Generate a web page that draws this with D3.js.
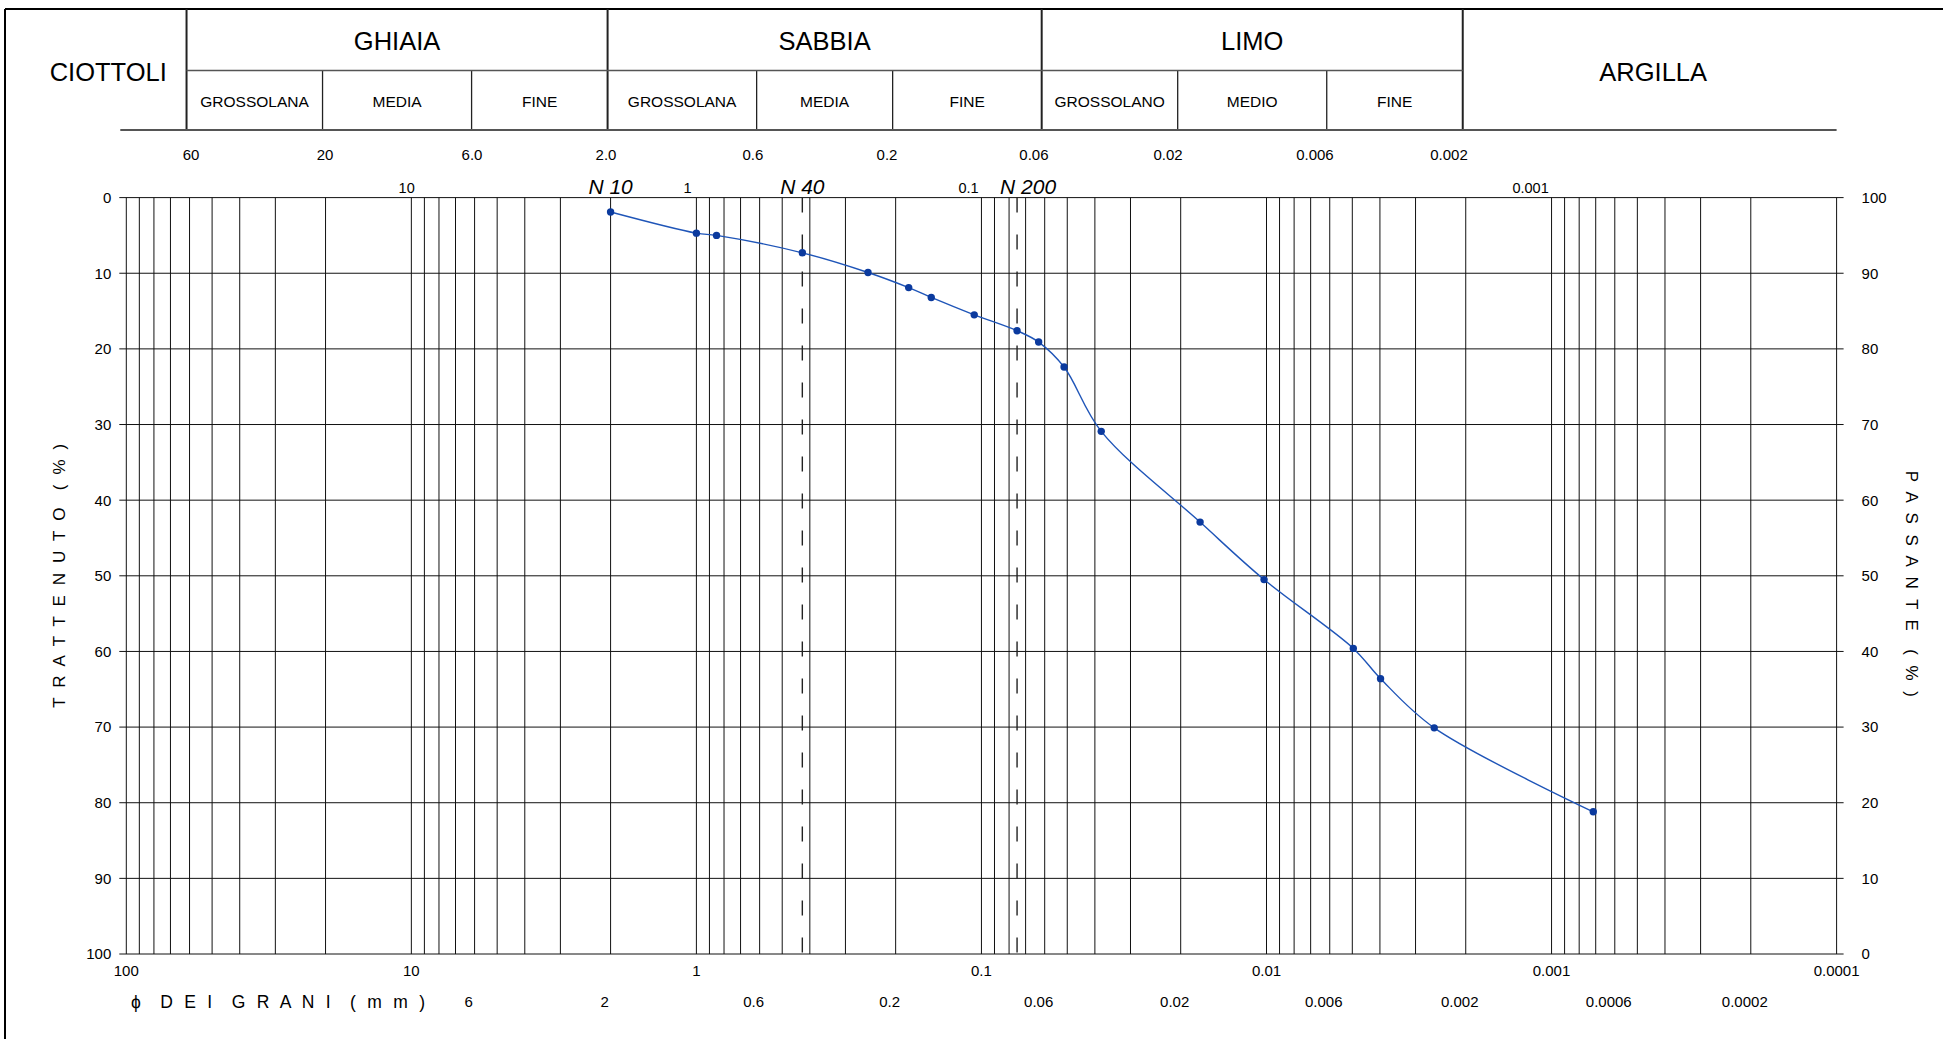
<!DOCTYPE html>
<html>
<head>
<meta charset="utf-8">
<script src="https://cdn.jsdelivr.net/npm/d3@7"></script>
<style>
  html, body { margin: 0; padding: 0; background: #fff; }
  svg { display: block; font-family: "Liberation Sans", Arial, Helvetica, sans-serif; }
  .spaced { white-space: pre; }
</style>
</head>
<body>
<svg id="chart" width="1943" height="1039"></svg>
<script>
// grain size curve: diameter (mm) and retained (%)
const diameters = [2.0, 1.0, 0.85, 0.425, 0.25, 0.18, 0.15, 0.106, 0.075, 0.063, 0.0513, 0.038, 0.0171, 0.0102, 0.00496, 0.00398, 0.00258, 0.000714];
const retained = [1.9, 4.7, 5.0, 7.3, 9.9, 11.9, 13.2, 15.5, 17.6, 19.1, 22.4, 30.9, 42.9, 50.5, 59.6, 63.6, 70.1, 81.2];

// sieves marked with dashed lines
const sieveNames = ['N 10', 'N 40', 'N 200'];
const sieveSizes = [2.0, 0.425, 0.075];

// classification header
const classNames = ['GHIAIA', 'SABBIA', 'LIMO'];
const classBounds = [60, 2, 0.06, 0.002];
const subNames = ['GROSSOLANA', 'MEDIA', 'FINE', 'GROSSOLANA', 'MEDIA', 'FINE', 'GROSSOLANO', 'MEDIO', 'FINE'];
const subBounds = [60, 20, 6, 2, 0.6, 0.2, 0.06, 0.02, 0.006, 0.002];
const boundLabels = ['60', '20', '6.0', '2.0', '0.6', '0.2', '0.06', '0.02', '0.006', '0.002'];

// tick labels
const topDecadeLabels = [10, 1, 0.1, 0.001];
const bottomMajorLabels = [100, 10, 1, 0.1, 0.01, 0.001, 0.0001];
const bottomMinorLabels = [6, 2, 0.6, 0.2, 0.06, 0.02, 0.006, 0.002, 0.0006, 0.0002];
const percentTicks = [0, 10, 20, 30, 40, 50, 60, 70, 80, 90, 100];

const svg = d3.select('#chart');

const x = d3.scaleLog().domain([100, 0.0001]).range([126.3, 1836.6]);
const y = d3.scaleLinear().domain([0, 100]).range([197.6, 954]);
// the header row is drawn a few pixels left of the plot grid
const hx = (v) => x(v) - 3;
// the header numbers sit on a slightly compressed copy of the axis
const labelX = d3.scaleLog().domain([60, 0.002]).range([191, 1449]);

const left = x.range()[0];
const right = x.range()[1];
const tick = 7;

// outer frame
svg.append('line').attr('x1', 5).attr('y1', 9).attr('x2', 1943).attr('y2', 9)
  .attr('stroke', '#000').attr('stroke-width', 2);
svg.append('line').attr('x1', 5).attr('y1', 9).attr('x2', 5).attr('y2', 1039)
  .attr('stroke', '#000').attr('stroke-width', 2);

// header table
const header = svg.append('g').attr('stroke', '#222');
const rowMid = 70.5;
const headBottom = 130;

header.selectAll('line.major')
  .data(classBounds)
  .join('line')
  .attr('x1', hx).attr('x2', hx)
  .attr('y1', 9).attr('y2', headBottom)
  .attr('stroke-width', 2);

header.selectAll('line.minor')
  .data(subBounds.filter((v) => !classBounds.includes(v)))
  .join('line')
  .attr('class', 'minor')
  .attr('x1', hx).attr('x2', hx)
  .attr('y1', rowMid).attr('y2', headBottom)
  .attr('stroke-width', 1.3);

header.append('line')
  .attr('x1', hx(60)).attr('x2', hx(0.002))
  .attr('y1', rowMid).attr('y2', rowMid)
  .attr('stroke-width', 1.5).attr('stroke', '#555');

header.append('line')
  .attr('x1', left - 6).attr('x2', right)
  .attr('y1', headBottom).attr('y2', headBottom)
  .attr('stroke-width', 1.8).attr('stroke', '#555');

svg.selectAll('text.class')
  .data(classNames)
  .join('text')
  .attr('class', 'class')
  .attr('x', (d, i) => (hx(classBounds[i]) + hx(classBounds[i + 1])) / 2)
  .attr('y', 50)
  .attr('text-anchor', 'middle')
  .attr('font-size', 25.5)
  .text((d) => d);

svg.append('text')
  .attr('x', (30 + hx(60)) / 2)
  .attr('y', 80.5)
  .attr('text-anchor', 'middle')
  .attr('font-size', 25.5)
  .text('CIOTTOLI');

svg.append('text')
  .attr('x', (hx(0.002) + right + tick) / 2)
  .attr('y', 80.5)
  .attr('text-anchor', 'middle')
  .attr('font-size', 25.5)
  .text('ARGILLA');

svg.selectAll('text.sub')
  .data(subNames)
  .join('text')
  .attr('class', 'sub')
  .attr('x', (d, i) => (hx(subBounds[i]) + hx(subBounds[i + 1])) / 2)
  .attr('y', 106.5)
  .attr('text-anchor', 'middle')
  .attr('font-size', 15.5)
  .text((d) => d);

// numbers under the header
svg.selectAll('text.bound')
  .data(subBounds)
  .join('text')
  .attr('class', 'bound')
  .attr('x', (d) => labelX(d))
  .attr('y', 159.5)
  .attr('text-anchor', 'middle')
  .attr('font-size', 15)
  .text((d, i) => boundLabels[i]);

svg.selectAll('text.topdec')
  .data(topDecadeLabels)
  .join('text')
  .attr('class', 'topdec')
  .attr('x', (d) => labelX(d) - 3)
  .attr('y', 192.5)
  .attr('text-anchor', 'middle')
  .attr('font-size', 14.5)
  .text((d) => String(d));

// grid
const grid = svg.append('g').attr('stroke', '#111').attr('stroke-width', 1);

grid.selectAll('line.v')
  .data(x.ticks())
  .join('line')
  .attr('x1', (d) => x(d)).attr('x2', (d) => x(d))
  .attr('y1', y(0)).attr('y2', y(100));

grid.selectAll('line.h')
  .data(percentTicks)
  .join('line')
  .attr('class', 'h')
  .attr('x1', left - tick).attr('x2', right + tick)
  .attr('y1', (d) => y(d)).attr('y2', (d) => y(d));

// sieve lines
svg.selectAll('line.sieve')
  .data(sieveSizes.slice(1))
  .join('line')
  .attr('class', 'sieve')
  .attr('x1', (d) => x(d)).attr('x2', (d) => x(d))
  .attr('y1', y(0)).attr('y2', y(100))
  .attr('stroke', '#222')
  .attr('stroke-width', 1.4)
  .attr('stroke-dasharray', '15,22');

svg.selectAll('text.sieve')
  .data(sieveNames)
  .join('text')
  .attr('class', 'sieve')
  .attr('x', (d, i) => x(sieveSizes[i]) + (i === 2 ? 11 : 0))
  .attr('y', 194)
  .attr('text-anchor', 'middle')
  .attr('font-size', 21)
  .attr('font-style', 'italic')
  .text((d) => d);

// left and right axis labels
svg.selectAll('text.yl')
  .data(percentTicks)
  .join('text')
  .attr('class', 'yl')
  .attr('x', left - 15)
  .attr('y', (d) => y(d))
  .attr('dy', '0.36em')
  .attr('text-anchor', 'end')
  .attr('font-size', 15)
  .text((d) => d);

svg.selectAll('text.yr')
  .data(percentTicks)
  .join('text')
  .attr('class', 'yr')
  .attr('x', right + 25)
  .attr('y', (d) => y(d))
  .attr('dy', '0.36em')
  .attr('font-size', 15)
  .text((d) => 100 - d);

// bottom labels
svg.selectAll('text.xb')
  .data(bottomMajorLabels)
  .join('text')
  .attr('class', 'xb')
  .attr('x', (d) => x(d))
  .attr('y', 976)
  .attr('text-anchor', 'middle')
  .attr('font-size', 15)
  .text((d) => String(d));

svg.selectAll('text.xm')
  .data(bottomMinorLabels)
  .join('text')
  .attr('class', 'xm')
  .attr('x', (d) => x(d) - 6)
  .attr('y', 1007)
  .attr('text-anchor', 'middle')
  .attr('font-size', 15)
  .text((d) => String(d));

// axis titles
svg.append('text')
  .attr('class', 'spaced')
  .attr('x', 131).attr('y', 1008)
  .attr('font-size', 17.5)
  .attr('textLength', 294)
  .attr('lengthAdjust', 'spacing')
  .text('ϕ  D E I  G R A N I  ( m m )');

svg.append('text')
  .attr('class', 'spaced')
  .attr('transform', `translate(65, ${(y(0) + y(100)) / 2}) rotate(-90)`)
  .attr('text-anchor', 'middle')
  .attr('font-size', 17)
  .attr('textLength', 264)
  .attr('lengthAdjust', 'spacing')
  .text('T R A T T E N U T O  ( % )');

svg.append('text')
  .attr('class', 'spaced')
  .attr('transform', `translate(1906, ${(y(0) + y(100)) / 2 + 8}) rotate(90)`)
  .attr('text-anchor', 'middle')
  .attr('font-size', 17)
  .attr('textLength', 226)
  .attr('lengthAdjust', 'spacing')
  .text('P A S S A N T E  ( % )');

// curve
const points = diameters.map((d, i) => ({ d, r: retained[i] }));

const line = d3.line()
  .x((p) => x(p.d))
  .y((p) => y(p.r))
  .curve(d3.curveCatmullRom);

svg.append('path')
  .datum(points)
  .attr('d', line)
  .attr('fill', 'none')
  .attr('stroke', '#1f55b8')
  .attr('stroke-width', 1.4);

svg.selectAll('circle.pt')
  .data(points)
  .join('circle')
  .attr('class', 'pt')
  .attr('cx', (p) => x(p.d))
  .attr('cy', (p) => y(p.r))
  .attr('r', 3.7)
  .attr('fill', '#0b3a9e');
</script>
</body>
</html>
